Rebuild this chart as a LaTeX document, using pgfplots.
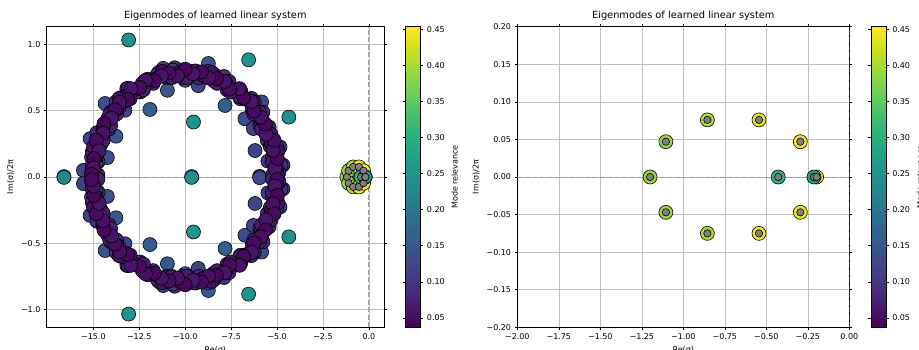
\documentclass[border=0pt]{standalone}
\usepackage{fontspec}
\setmainfont{DejaVu Sans}
\usepackage{pgfplots}
\usepackage{pgfplotstable}
\pgfplotsset{compat=1.18}

% blue (scattered) modes, upper and lower (conjugate) halves
\pgfplotstableread{
x y c
-8.74 0.857 0.15
-10.97 0.655 0.15
-11.92 0.510 0.16
-7.83 0.540 0.16
-14.36 0.555 0.14
-13.77 0.308 0.15
-14.24 0.147 0.14
-10.00 0.730 0.13
-9.29 0.690 0.12
-15.10 0.150 0.12
-6.75 0.440 0.13
-6.29 0.366 0.12
-5.95 0.005 0.13
-4.68 0.090 0.12
-5.84 0.567 0.13
-4.84 0.227 0.11
-15.54 0.050 0.12
-11.20 0.820 0.11
-8.38 0.770 0.11
-13.18 0.668 0.11
-15.18 0.290 0.12
-13.28 0.504 0.12
-5.50 0.120 0.11
-6.20 0.200 0.12
-8.74 -0.857 0.15
-10.97 -0.655 0.15
-11.92 -0.510 0.16
-7.83 -0.540 0.16
-14.36 -0.555 0.14
-13.77 -0.308 0.15
-14.24 -0.147 0.14
-10.00 -0.730 0.13
-9.29 -0.690 0.12
-15.10 -0.150 0.12
-6.75 -0.440 0.13
-6.29 -0.366 0.12
-5.95 -0.005 0.13
-4.68 -0.090 0.12
-5.84 -0.567 0.13
-4.84 -0.227 0.11
-15.54 -0.050 0.12
-11.20 -0.820 0.11
-8.38 -0.770 0.11
-13.18 -0.668 0.11
-15.18 -0.290 0.12
-13.28 -0.504 0.12
-5.50 -0.120 0.11
-6.20 -0.200 0.12
}\bluedata

% ring, layer 3 (drawn first)
\pgfplotstableread{
x y c
-5.25 0.016 0.07
-4.78 0.090 0.09
-5.24 0.150 0.06
-5.01 0.230 0.10
-5.53 0.275 0.08
-5.47 0.353 0.065
-5.94 0.389 0.07
-5.77 0.490 0.09
-6.35 0.505 0.06
-6.40 0.594 0.10
-7.00 0.591 0.08
-7.19 0.663 0.065
-7.72 0.658 0.07
-7.89 0.759 0.09
-8.44 0.726 0.06
-8.76 0.798 0.10
-9.27 0.750 0.08
-9.67 0.796 0.065
-10.10 0.750 0.07
-10.57 0.825 0.09
-10.95 0.752 0.06
-11.45 0.789 0.10
-11.74 0.707 0.08
-12.23 0.716 0.065
-12.46 0.642 0.07
-13.10 0.669 0.09
-13.20 0.576 0.06
-13.76 0.568 0.10
-13.74 0.475 0.08
-14.20 0.443 0.065
-14.16 0.361 0.07
-14.81 0.334 0.09
-14.59 0.246 0.06
-15.05 0.195 0.10
-14.74 0.115 0.08
-15.04 0.052 0.065
-5.25 -0.016 0.07
-4.78 -0.090 0.09
-5.24 -0.150 0.06
-5.01 -0.230 0.10
-5.53 -0.275 0.08
-5.47 -0.353 0.065
-5.94 -0.389 0.07
-5.77 -0.490 0.09
-6.35 -0.505 0.06
-6.40 -0.594 0.10
-7.00 -0.591 0.08
-7.19 -0.663 0.065
-7.72 -0.658 0.07
-7.89 -0.759 0.09
-8.44 -0.726 0.06
-8.76 -0.798 0.10
-9.27 -0.750 0.08
-9.67 -0.796 0.065
-10.10 -0.750 0.07
-10.57 -0.825 0.09
-10.95 -0.752 0.06
-11.45 -0.789 0.10
-11.74 -0.707 0.08
-12.23 -0.716 0.065
-12.46 -0.642 0.07
-13.10 -0.669 0.09
-13.20 -0.576 0.06
-13.76 -0.568 0.10
-13.74 -0.475 0.08
-14.20 -0.443 0.065
-14.16 -0.361 0.07
-14.81 -0.334 0.09
-14.59 -0.246 0.06
-15.05 -0.195 0.10
-14.74 -0.115 0.08
-15.04 -0.052 0.065
}\ringthree

% ring, layer 2
\pgfplotstableread{
x y c
-4.90 0.035 0.08
-5.09 0.102 0.10
-5.07 0.172 0.07
-5.37 0.231 0.09
-5.38 0.303 0.11
-5.43 0.376 0.08
-5.87 0.416 0.10
-5.96 0.491 0.07
-6.35 0.529 0.09
-6.59 0.588 0.11
-7.05 0.607 0.08
-7.32 0.666 0.10
-7.62 0.722 0.07
-8.12 0.715 0.09
-8.46 0.769 0.11
-8.93 0.763 0.08
-9.34 0.791 0.10
-9.79 0.766 0.07
-10.22 0.789 0.09
-10.67 0.807 0.11
-11.06 0.755 0.08
-11.54 0.769 0.10
-11.90 0.723 0.07
-12.33 0.708 0.09
-12.60 0.646 0.11
-13.05 0.626 0.08
-13.48 0.600 0.10
-13.61 0.523 0.07
-14.04 0.491 0.09
-14.17 0.420 0.11
-14.48 0.369 0.08
-14.48 0.293 0.10
-14.77 0.238 0.07
-15.03 0.176 0.09
-14.86 0.101 0.11
-15.09 0.035 0.08
-4.90 -0.035 0.08
-5.09 -0.102 0.10
-5.07 -0.172 0.07
-5.37 -0.231 0.09
-5.38 -0.303 0.11
-5.43 -0.376 0.08
-5.87 -0.416 0.10
-5.96 -0.491 0.07
-6.35 -0.529 0.09
-6.59 -0.588 0.11
-7.05 -0.607 0.08
-7.32 -0.666 0.10
-7.62 -0.722 0.07
-8.12 -0.715 0.09
-8.46 -0.769 0.11
-8.93 -0.763 0.08
-9.34 -0.791 0.10
-9.79 -0.766 0.07
-10.22 -0.789 0.09
-10.67 -0.807 0.11
-11.06 -0.755 0.08
-11.54 -0.769 0.10
-11.90 -0.723 0.07
-12.33 -0.708 0.09
-12.60 -0.646 0.11
-13.05 -0.626 0.08
-13.48 -0.600 0.10
-13.61 -0.523 0.07
-14.04 -0.491 0.09
-14.17 -0.420 0.11
-14.48 -0.369 0.08
-14.48 -0.293 0.10
-14.77 -0.238 0.07
-15.03 -0.176 0.09
-14.86 -0.101 0.11
-15.09 -0.035 0.08
}\ringtwo

% ring, layer 4
\pgfplotstableread{
x y c
-5.01 0.052 0.05
-5.26 0.115 0.065
-4.95 0.195 0.055
-5.31 0.251 0.045
-5.33 0.324 0.06
-5.84 0.361 0.07
-5.84 0.439 0.05
-6.26 0.475 0.065
-6.24 0.568 0.055
-6.74 0.588 0.045
-6.98 0.650 0.06
-7.54 0.642 0.07
-7.79 0.709 0.05
-8.26 0.707 0.065
-8.55 0.789 0.055
-9.03 0.767 0.045
-9.44 0.801 0.06
-9.90 0.750 0.07
-10.33 0.788 0.05
-10.73 0.750 0.065
-11.24 0.798 0.055
-11.59 0.741 0.045
-12.05 0.738 0.06
-12.28 0.658 0.07
-12.78 0.657 0.05
-13.00 0.591 0.065
-13.60 0.594 0.055
-13.72 0.516 0.045
-14.11 0.476 0.06
-14.06 0.389 0.07
-14.48 0.349 0.05
-14.47 0.275 0.065
-14.99 0.230 0.055
-14.85 0.153 0.045
-15.07 0.088 0.06
-14.75 0.016 0.07
-5.01 -0.052 0.05
-5.26 -0.115 0.065
-4.95 -0.195 0.055
-5.31 -0.251 0.045
-5.33 -0.324 0.06
-5.84 -0.361 0.07
-5.84 -0.439 0.05
-6.26 -0.475 0.065
-6.24 -0.568 0.055
-6.74 -0.588 0.045
-6.98 -0.650 0.06
-7.54 -0.642 0.07
-7.79 -0.709 0.05
-8.26 -0.707 0.065
-8.55 -0.789 0.055
-9.03 -0.767 0.045
-9.44 -0.801 0.06
-9.90 -0.750 0.07
-10.33 -0.788 0.05
-10.73 -0.750 0.065
-11.24 -0.798 0.055
-11.59 -0.741 0.045
-12.05 -0.738 0.06
-12.28 -0.658 0.07
-12.78 -0.657 0.05
-13.00 -0.591 0.065
-13.60 -0.594 0.055
-13.72 -0.516 0.045
-14.11 -0.476 0.06
-14.06 -0.389 0.07
-14.48 -0.349 0.05
-14.47 -0.275 0.065
-14.99 -0.230 0.055
-14.85 -0.153 0.045
-15.07 -0.088 0.06
-14.75 -0.016 0.07
}\ringfour

% ring, darkest layer (drawn last)
\pgfplotstableread{
x y c
-5.00 0.020 0.05
-5.12 0.067 0.06
-4.98 0.140 0.045
-5.22 0.203 0.055
-5.16 0.278 0.05
-5.61 0.324 0.06
-5.63 0.399 0.045
-5.90 0.453 0.055
-6.25 0.498 0.05
-6.39 0.570 0.06
-6.82 0.599 0.045
-7.04 0.667 0.055
-7.58 0.663 0.05
-7.86 0.723 0.06
-8.29 0.743 0.045
-8.73 0.748 0.055
-9.11 0.794 0.05
-9.57 0.779 0.06
-10.00 0.814 0.045
-10.42 0.763 0.055
-10.88 0.786 0.05
-11.30 0.763 0.06
-11.68 0.728 0.045
-12.16 0.730 0.055
-12.48 0.677 0.05
-12.96 0.667 0.06
-13.12 0.587 0.045
-13.57 0.564 0.055
-13.83 0.508 0.05
-14.01 0.444 0.06
-14.42 0.403 0.045
-14.48 0.331 0.055
-14.84 0.278 0.05
-14.69 0.198 0.06
-14.97 0.139 0.045
-14.98 0.069 0.055
-15.10 0.020 0.05
-5.00 -0.020 0.05
-5.12 -0.067 0.06
-4.98 -0.140 0.045
-5.22 -0.203 0.055
-5.16 -0.278 0.05
-5.61 -0.324 0.06
-5.63 -0.399 0.045
-5.90 -0.453 0.055
-6.25 -0.498 0.05
-6.39 -0.570 0.06
-6.82 -0.599 0.045
-7.04 -0.667 0.055
-7.58 -0.663 0.05
-7.86 -0.723 0.06
-8.29 -0.743 0.045
-8.73 -0.748 0.055
-9.11 -0.794 0.05
-9.57 -0.779 0.06
-10.00 -0.814 0.045
-10.42 -0.763 0.055
-10.88 -0.786 0.05
-11.30 -0.763 0.06
-11.68 -0.728 0.045
-12.16 -0.730 0.055
-12.48 -0.677 0.05
-12.96 -0.667 0.06
-13.12 -0.587 0.045
-13.57 -0.564 0.055
-13.83 -0.508 0.05
-14.01 -0.444 0.06
-14.42 -0.403 0.045
-14.48 -0.331 0.055
-14.84 -0.278 0.05
-14.69 -0.198 0.06
-14.97 -0.139 0.045
-14.98 -0.069 0.055
-15.10 -0.020 0.05
}\ringone

% teal outlier modes
\pgfplotstableread{
x y c
-13.08 1.035 0.25
-6.55 0.885 0.25
-4.36 0.452 0.245
-9.55 0.415 0.25
-9.65 0.003 0.245
-16.60 0.003 0.23
-13.08 -1.035 0.25
-6.55 -0.885 0.25
-4.36 -0.452 0.245
-9.55 -0.415 0.25
-9.65 -0.003 0.245
-16.60 -0.003 0.23
}\tealdata

% slow cluster near the origin
\pgfplotstableread{
x y c
-1.200 0.000 0.39
-1.105 0.047 0.39
-1.105 -0.047 0.39
-0.855 0.076 0.40
-0.855 -0.075 0.40
-0.544 0.076 0.445
-0.544 -0.075 0.445
-0.295 0.047 0.445
-0.295 -0.047 0.445
-0.428 0.000 0.31
-0.197 0.000 0.44
-0.213 0.000 0.27
}\clusterdata

% grey reference markers
\pgfplotstableread{
x y
-1.200 0.000
-1.105 0.047
-1.105 -0.047
-0.855 0.076
-0.855 -0.075
-0.544 0.076
-0.544 -0.075
-0.295 0.047
-0.295 -0.047
-0.428 0.000
-0.213 0.000
-0.197 0.000
}\greydata

\definecolor{gridc}{RGB}{190,190,190}
\definecolor{dashc}{RGB}{155,155,155}

\pgfplotsset{
  eig/.style={
    scale only axis,
    height=300.6pt,
    axis line style={black, line width=0.6pt},
    tick align=outside,
    major tick length=2.7pt,
    tick style={black, line width=0.6pt},
    grid=major,
    grid style={gridc, line width=0.6pt},
    tick label style={font=\fontsize{8}{9.5}\selectfont},
    label style={font=\fontsize{8}{9.5}\selectfont},
    title style={font=\fontsize{9.8}{11.5}\selectfont, yshift=-3.5pt},
    title={Eigenmodes of learned linear system},
    xlabel={Re(σ)},
    ylabel={Im(σ)/2π},
    colormap/viridis,
    point meta min=0.037, point meta max=0.4536,
    colorbar,
    colorbar style={
      at={(parent axis.north east)}, anchor=north west, xshift=13.2pt,
      scale only axis, width=15pt, height=300.6pt,
      grid=none,
      axis line style={black, line width=0.6pt},
      tick align=outside, major tick length=2.7pt,
      tick style={black, line width=0.6pt},
      ytick={0.05,0.10,0.15,0.20,0.25,0.30,0.35,0.40,0.45},
      yticklabels={0.05,0.10,0.15,0.20,0.25,0.30,0.35,0.40,0.45},
      yticklabel style={font=\fontsize{8}{9.5}\selectfont},
      ylabel={Mode relevance},
      ylabel style={font=\fontsize{8}{9.5}\selectfont},
    },
  },
  sc/.style={scatter, only marks, mark=*, mark size=7pt, point meta=explicit,
    scatter/use mapped color={draw=black, fill=mapped color, line width=0.6pt}},
  gr/.style={only marks, mark=*, mark size=3.7pt,
    mark options={fill=gray, draw=black, line width=0.6pt}},
}

\begin{document}
\begin{tikzpicture}
\begin{axis}[eig,
  at={(46.7pt,21.7pt)}, anchor=south west,
  width=337.3pt,
  xmin=-17.54, xmax=0.82, ymin=-1.135, ymax=1.135,
  xtick={-15,-12.5,-10,-7.5,-5,-2.5,0},
  xticklabels={−15.0,−12.5,−10.0,−7.5,−5.0,−2.5,0.0},
  ytick={-1,-0.5,0,0.5,1},
  yticklabels={−1.0,−0.5,0.0,0.5,1.0},
]
\addplot[dashc, line width=1pt, dash pattern=on 5pt off 2.5pt] coordinates {(-17.54,0) (0.82,0)};
\addplot[dashc, line width=1pt, dash pattern=on 5pt off 2.5pt] coordinates {(0,-1.135) (0,1.135)};
\addplot[sc] table[x=x,y=y,meta=c]{\bluedata};
\addplot[sc] table[x=x,y=y,meta=c]{\ringthree};
\addplot[sc] table[x=x,y=y,meta=c]{\ringtwo};
\addplot[sc] table[x=x,y=y,meta=c]{\ringfour};
\addplot[sc] table[x=x,y=y,meta=c]{\ringone};
\addplot[sc] table[x=x,y=y,meta=c]{\tealdata};
\addplot[sc] table[x=x,y=y,meta=c]{\clusterdata};
\addplot[gr] table[x=x,y=y]{\greydata};
\end{axis}

\begin{axis}[eig,
  at={(517.3pt,21.7pt)}, anchor=south west,
  width=332pt,
  xmin=-2, xmax=0, ymin=-0.2, ymax=0.2,
  xtick={-2,-1.75,-1.5,-1.25,-1,-0.75,-0.5,-0.25,0},
  xticklabels={−2.00,−1.75,−1.50,−1.25,−1.00,−0.75,−0.50,−0.25,0.00},
  ytick={-0.2,-0.15,-0.1,-0.05,0,0.05,0.1,0.15,0.2},
  yticklabels={−0.20,−0.15,−0.10,−0.05,0.00,0.05,0.10,0.15,0.20},
]
\addplot[dashc, line width=1pt, dash pattern=on 5pt off 2.5pt] coordinates {(-2,0) (0,0)};
\addplot[dashc, line width=1pt, dash pattern=on 5pt off 2.5pt] coordinates {(0,-0.2) (0,0.2)};
\addplot[sc] table[x=x,y=y,meta=c]{\clusterdata};
\addplot[gr] table[x=x,y=y]{\greydata};
\end{axis}
\pgfresetboundingbox
\path[use as bounding box] (0pt,0pt) rectangle (919pt,349pt);
\end{tikzpicture}
\end{document}
